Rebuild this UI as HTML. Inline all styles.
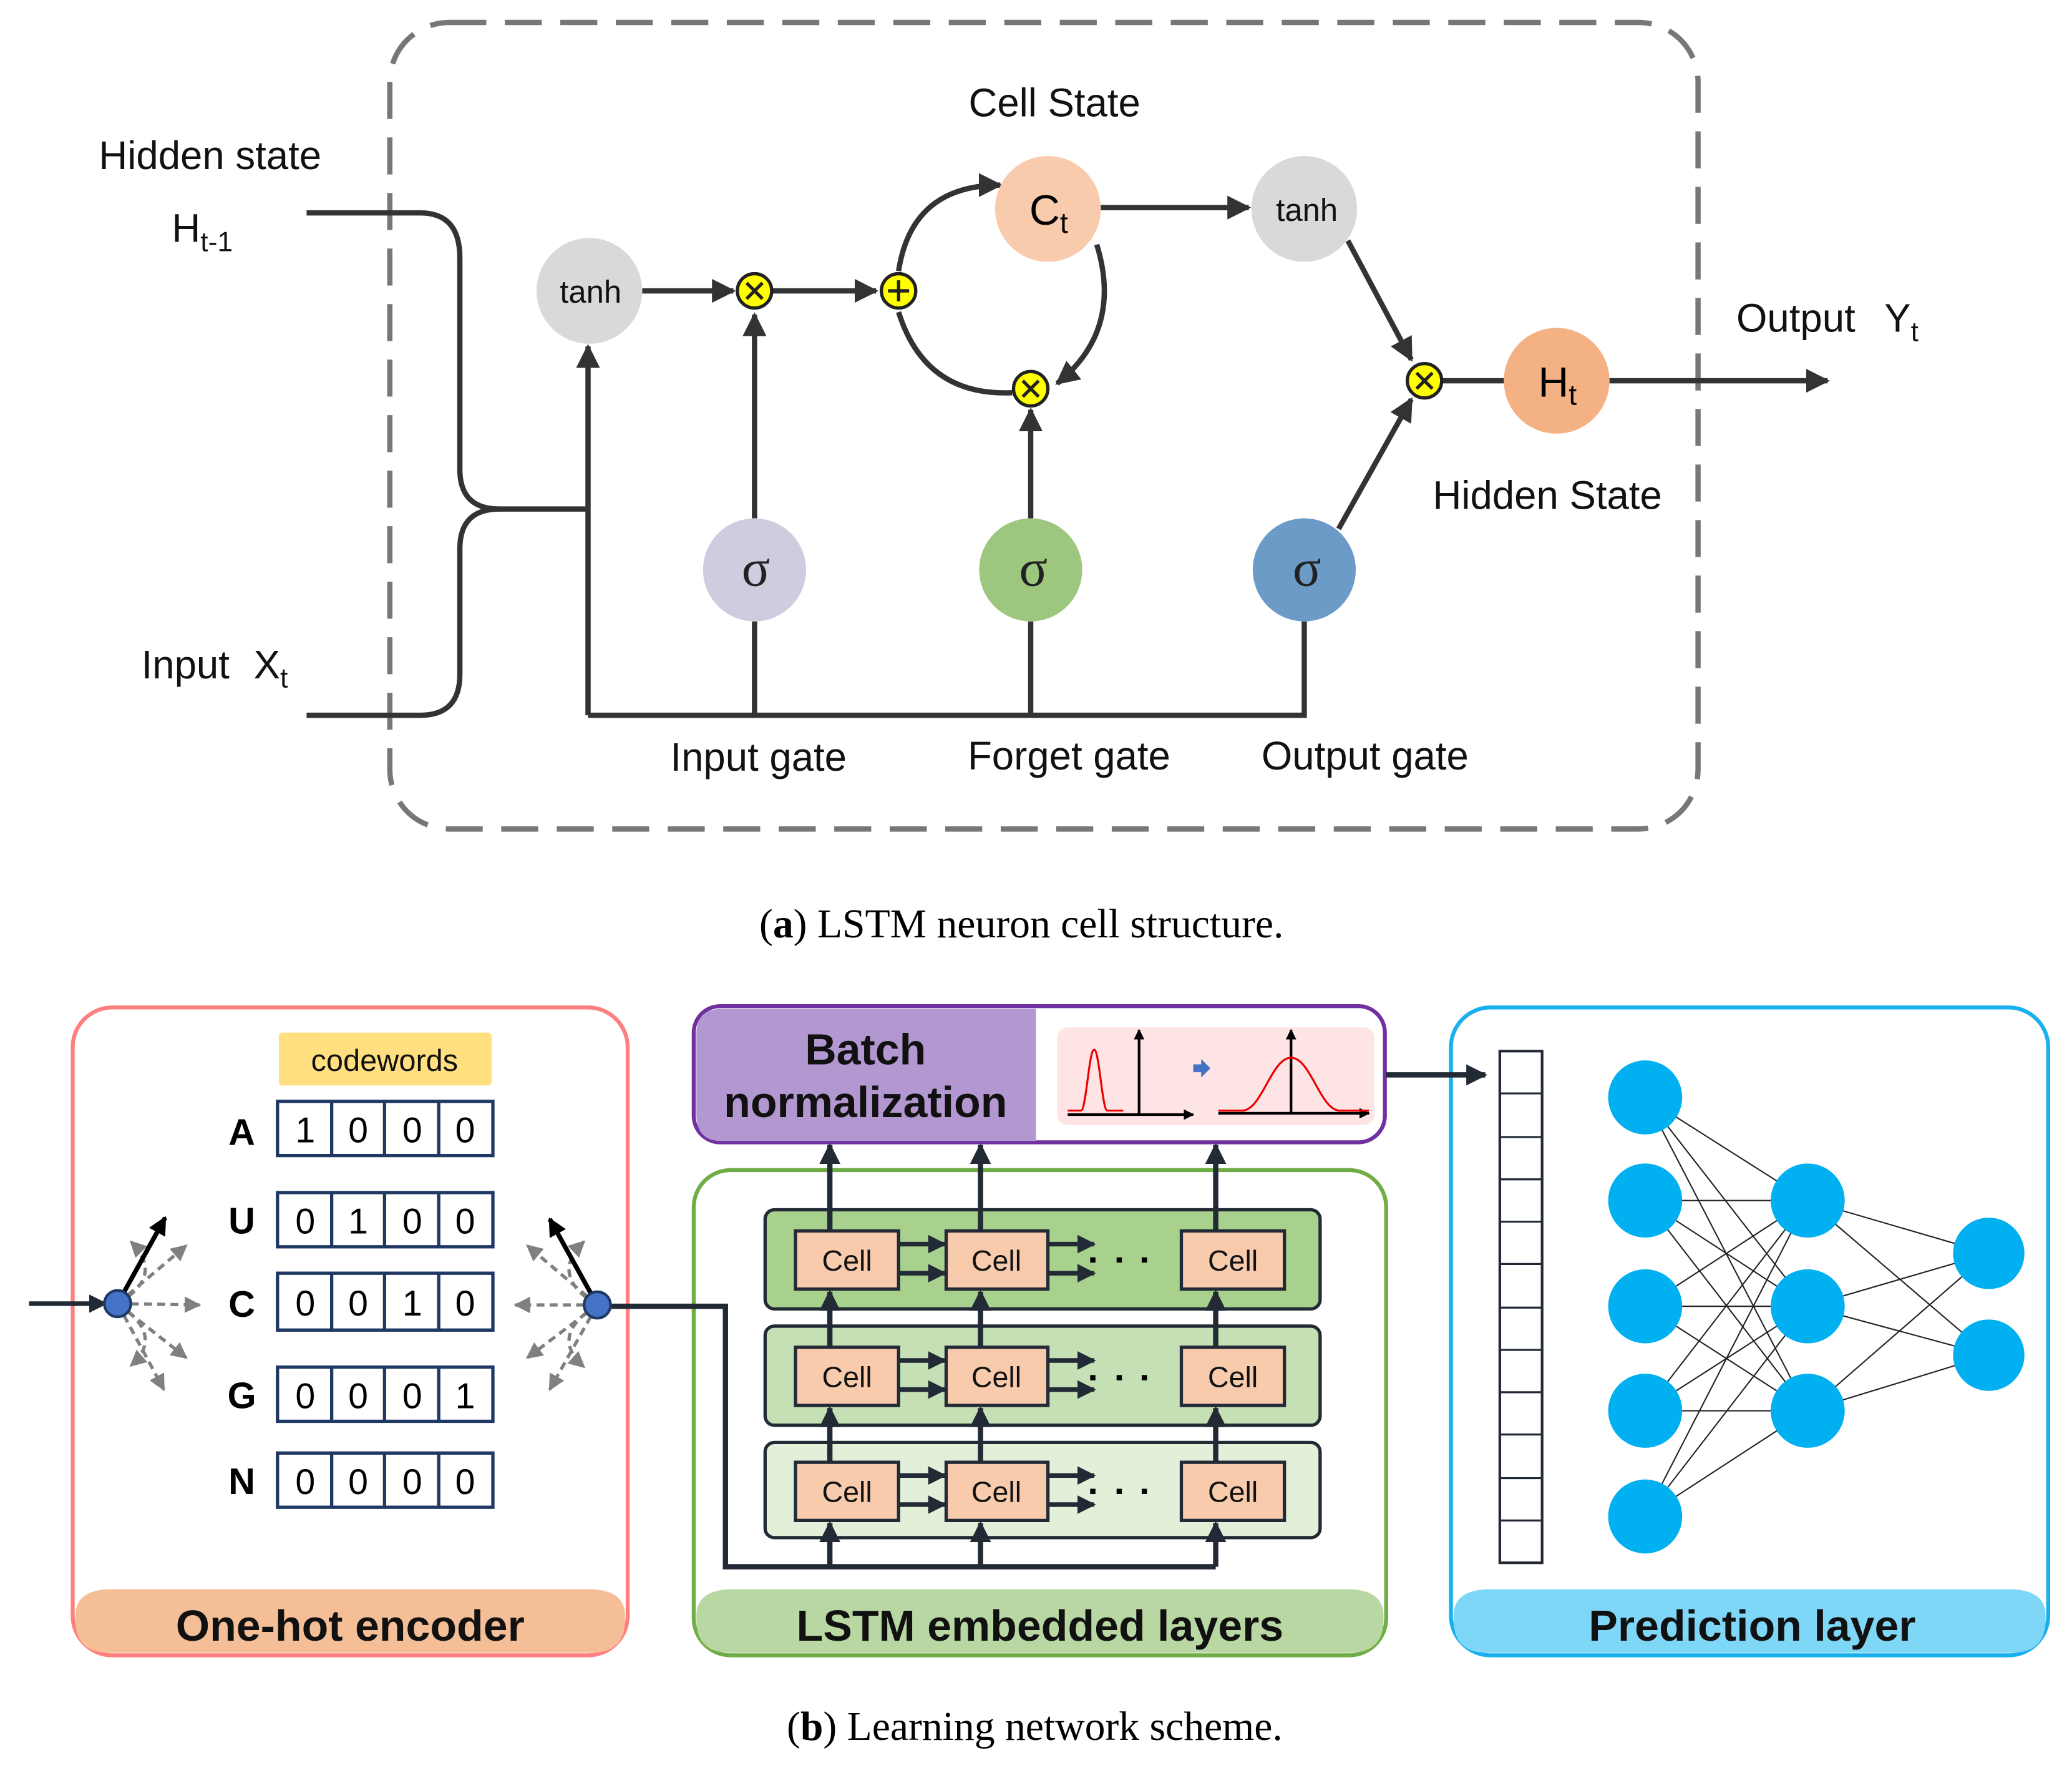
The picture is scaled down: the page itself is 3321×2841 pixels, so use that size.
<!DOCTYPE html>
<html><head><meta charset="utf-8"><style>
html,body{margin:0;padding:0;background:#fff;}
svg{display:block;}
text{font-family:"Liberation Sans","DejaVu Sans",sans-serif;}
</style></head><body>
<svg width="3321" height="2841" viewBox="0 0 1568 1341" preserveAspectRatio="none" xmlns="http://www.w3.org/2000/svg">
<defs>
<marker id="ah" viewBox="0 0 10 10" refX="9" refY="5" markerWidth="4.5" markerHeight="4.5" orient="auto-start-reverse"><path d="M0,0L10,5L0,10z" fill="#333"/></marker>
<marker id="ad" viewBox="0 0 10 10" refX="9" refY="5" markerWidth="4" markerHeight="4" orient="auto"><path d="M0,0L10,5L0,10z" fill="#222a35"/></marker>
<marker id="ag" viewBox="0 0 10 10" refX="9" refY="5" markerWidth="5" markerHeight="5" orient="auto"><path d="M0,0L10,5L0,10z" fill="#808080"/></marker>
<marker id="ak" viewBox="0 0 10 10" refX="9" refY="5" markerWidth="4" markerHeight="4" orient="auto"><path d="M0,0L10,5L0,10z" fill="#000"/></marker>
</defs>

<!-- (a) -->
<rect x="295" y="17" width="990" height="610" rx="45" fill="none" stroke="#777" stroke-width="4" stroke-dasharray="28 14"/>
<g fill="none" stroke="#333" stroke-width="4">
<path d="M232,161H318Q348,161 348,195V355Q348,385 378,385H445"/>
<path d="M232,541H318Q348,541 348,510V415Q348,385 378,385"/>
<path d="M445,541V262" marker-end="url(#ah)"/>
<path d="M445,541H987V470"/>
<path d="M571,541V470"/><path d="M780,541V470"/>
<path d="M571,392V238" marker-end="url(#ah)"/>
<path d="M486,220H555" marker-end="url(#ah)"/>
<path d="M585,220H663" marker-end="url(#ah)"/>
<path d="M680,205Q690,140 757,140" marker-end="url(#ah)"/>
<path d="M830,185Q850,250 800,290" marker-end="url(#ah)"/>
<path d="M766,297Q700,300 680,236"/>
<path d="M780,392V310" marker-end="url(#ah)"/>
<path d="M833,157H945" marker-end="url(#ah)"/>
<path d="M1020,182L1068,272" marker-end="url(#ah)"/>
<path d="M1013,400L1068,302" marker-end="url(#ah)"/>
<path d="M1091,288H1140"/>
<path d="M1218,288H1383" marker-end="url(#ah)"/>
</g>
<circle cx="446" cy="220" r="40" fill="#d9d9d9"/>
<circle cx="793" cy="158" r="40" fill="#f8cbad"/>
<circle cx="987" cy="158" r="40" fill="#d9d9d9"/>
<circle cx="1178" cy="288" r="40" fill="#f4b183"/>
<circle cx="571" cy="431" r="39" fill="#d0cce0"/>
<circle cx="780" cy="431" r="39" fill="#9dc67f"/>
<circle cx="987" cy="431" r="39" fill="#6d9bc8"/>
<g fill="#ffff00" stroke="#222" stroke-width="2.5">
<circle cx="571" cy="220" r="13"/><circle cx="680" cy="220" r="13"/><circle cx="780" cy="294" r="13"/><circle cx="1078" cy="288" r="13"/>
</g>
<g stroke="#222" stroke-width="2.5">
<path d="M565,214l12,12M577,214l-12,12"/><path d="M672,220h16M680,212v16"/><path d="M774,288l12,12M786,288l-12,12"/><path d="M1072,282l12,12M1084,282l-12,12"/>
</g>
<g font-size="24" text-anchor="middle" fill="#111">
<text x="447" y="229">tanh</text><text x="989" y="167">tanh</text>
</g>
<g font-size="40" text-anchor="middle" fill="#222">
<text x="572" y="443" style="font-family:'Liberation Serif',serif">σ</text>
<text x="782" y="443" style="font-family:'Liberation Serif',serif">σ</text>
<text x="989" y="443" style="font-family:'Liberation Serif',serif">σ</text>
</g>
<text x="779" y="170" font-size="32">C<tspan font-size="22" dy="6">t</tspan></text>
<text x="1164" y="300" font-size="32">H<tspan font-size="22" dy="6">t</tspan></text>
<g font-size="30" fill="#111">
<text x="798" y="88" text-anchor="middle">Cell State</text>
<text x="159" y="128" text-anchor="middle">Hidden state</text>
<text x="130" y="183">H<tspan font-size="21" dy="7">t-1</tspan></text>
<text x="107" y="513">Input</text>
<text x="192" y="513">X<tspan font-size="21" dy="7">t</tspan></text>
<text x="574" y="583" text-anchor="middle">Input gate</text>
<text x="809" y="582" text-anchor="middle">Forget gate</text>
<text x="1033" y="582" text-anchor="middle">Output gate</text>
<text x="1171" y="385" text-anchor="middle">Hidden State</text>
<text x="1314" y="251">Output</text>
<text x="1426" y="251">Y<tspan font-size="21" dy="7">t</tspan></text>
</g>
<text x="773" y="709" font-size="31" text-anchor="middle" style="font-family:'Liberation Serif',serif">(<tspan font-weight="bold">a</tspan>) LSTM neuron cell structure.</text>

<!-- (b) pink -->
<rect x="55" y="762" width="420" height="490" rx="30" fill="#fff" stroke="#ff7f7f" stroke-width="3"/>
<path d="M57,1222Q57,1202 85,1202H445Q473,1202 473,1222V1225Q473,1250 448,1250H82Q57,1250 57,1225Z" fill="#f4be96"/>
<text x="265" y="1241" font-size="33" font-weight="bold" text-anchor="middle" fill="#111">One-hot encoder</text>
<rect x="211" y="781" width="161" height="40" rx="3" fill="#ffdf80"/>
<text x="291" y="810" font-size="23" text-anchor="middle" fill="#111">codewords</text>
<g font-size="28" font-weight="bold" text-anchor="middle" fill="#000">
<text x="183" y="866">A</text><text x="183" y="933">U</text><text x="183" y="996">C</text><text x="183" y="1065">G</text><text x="183" y="1130">N</text>
</g>
<g fill="#fff" stroke="#1f3864" stroke-width="2.5">
<rect x="210" y="833" width="163" height="41"/><rect x="210" y="902" width="163" height="41"/><rect x="210" y="963" width="163" height="43"/><rect x="210" y="1034" width="163" height="41"/><rect x="210" y="1099" width="163" height="41"/>
<path d="M251,833v41M291,833v41M332,833v41M251,902v41M291,902v41M332,902v41M251,963v43M291,963v43M332,963v43M251,1034v41M291,1034v41M332,1034v41M251,1099v41M291,1099v41M332,1099v41"/>
</g>
<g font-size="27" text-anchor="middle" fill="#000">
<text x="231" y="864">1</text><text x="271" y="864">0</text><text x="312" y="864">0</text><text x="352" y="864">0</text>
<text x="231" y="933">0</text><text x="271" y="933">1</text><text x="312" y="933">0</text><text x="352" y="933">0</text>
<text x="231" y="995">0</text><text x="271" y="995">0</text><text x="312" y="995">1</text><text x="352" y="995">0</text>
<text x="231" y="1065">0</text><text x="271" y="1065">0</text><text x="312" y="1065">0</text><text x="352" y="1065">1</text>
<text x="231" y="1130">0</text><text x="271" y="1130">0</text><text x="312" y="1130">0</text><text x="352" y="1130">0</text>
</g>
<g stroke="#808080" stroke-width="2.5" stroke-dasharray="6 4" fill="none">
<path d="M89,986L141,942" marker-end="url(#ag)"/><path d="M89,986L151,987" marker-end="url(#ag)"/><path d="M89,986L141,1027" marker-end="url(#ag)"/><path d="M89,986L124,1051" marker-end="url(#ag)"/><path d="M89,986Q125,965 99,939" marker-end="url(#ag)"/><path d="M89,986Q125,1010 99,1033" marker-end="url(#ag)"/>
<path d="M452,987L399,942" marker-end="url(#ag)"/><path d="M452,987L390,987" marker-end="url(#ag)"/><path d="M452,987L399,1027" marker-end="url(#ag)"/><path d="M452,987L416,1051" marker-end="url(#ag)"/><path d="M452,987Q415,965 442,939" marker-end="url(#ag)"/><path d="M452,987Q415,1010 442,1034" marker-end="url(#ag)"/>
</g>
<path d="M22,986H80" stroke="#222a35" stroke-width="3.5" marker-end="url(#ad)"/>
<path d="M89,986L125,921" stroke="#000" stroke-width="3.5" marker-end="url(#ak)"/>
<path d="M452,987L416,922" stroke="#000" stroke-width="3.5" marker-end="url(#ak)"/>
<circle cx="89" cy="986" r="10" fill="#4472c4" stroke="#1f3864" stroke-width="2"/>

<!-- LSTM green -->
<rect x="525" y="885" width="524" height="367" rx="28" fill="#fff" stroke="#70ad47" stroke-width="3"/>
<path d="M527,1222Q527,1202 555,1202H1019Q1047,1202 1047,1222V1225Q1047,1250 1022,1250H552Q527,1250 527,1225Z" fill="#b8d7a2"/>
<text x="787" y="1241" font-size="33" font-weight="bold" text-anchor="middle" fill="#111">LSTM  embedded layers</text>
<rect x="579" y="915" width="420" height="75" rx="7" fill="#a9d18e" stroke="#222a35" stroke-width="2.5"/>
<rect x="579" y="1003" width="420" height="75" rx="7" fill="#c5e0b4" stroke="#222a35" stroke-width="2.5"/>
<rect x="579" y="1091" width="420" height="72" rx="7" fill="#e2f0d9" stroke="#222a35" stroke-width="2.5"/>
<g stroke="#222a35" stroke-width="4" fill="none">
<path d="M462,988H549V1185H920"/>
<path d="M628,1185V1152" marker-end="url(#ad)"/><path d="M742,1185V1152" marker-end="url(#ad)"/><path d="M920,1185V1152" marker-end="url(#ad)"/>
<path d="M628,1106V1065" marker-end="url(#ad)"/><path d="M742,1106V1065" marker-end="url(#ad)"/><path d="M920,1106V1065" marker-end="url(#ad)"/>
<path d="M628,1019V977" marker-end="url(#ad)"/><path d="M742,1019V977" marker-end="url(#ad)"/><path d="M920,1019V977" marker-end="url(#ad)"/>
<path d="M628,931V866" marker-end="url(#ad)"/><path d="M742,931V866" marker-end="url(#ad)"/><path d="M920,931V866" marker-end="url(#ad)"/>
</g>
<g stroke="#222a35" stroke-width="3.5" fill="none" marker-end="url(#ad)">
<path d="M680,941H715"/><path d="M680,963H715"/><path d="M793,941H828"/><path d="M793,963H828"/>
<path d="M680,1029H715"/><path d="M680,1051H715"/><path d="M793,1029H828"/><path d="M793,1051H828"/>
<path d="M680,1116H715"/><path d="M680,1138H715"/><path d="M793,1116H828"/><path d="M793,1138H828"/>
</g>
<g fill="#000"><rect x="825" y="951" width="4" height="4"/><rect x="845" y="951" width="4" height="4"/><rect x="864" y="951" width="4" height="4"/>
<rect x="825" y="1040" width="4" height="4"/><rect x="845" y="1040" width="4" height="4"/><rect x="864" y="1040" width="4" height="4"/>
<rect x="825" y="1126" width="4" height="4"/><rect x="845" y="1126" width="4" height="4"/><rect x="864" y="1126" width="4" height="4"/></g>
<g fill="#f8cbad" stroke="#222a35" stroke-width="2.5">
<rect x="602" y="931" width="78" height="44"/><rect x="716" y="931" width="77" height="44"/><rect x="894" y="931" width="78" height="44"/>
<rect x="602" y="1019" width="78" height="44"/><rect x="716" y="1019" width="77" height="44"/><rect x="894" y="1019" width="78" height="44"/>
<rect x="602" y="1106" width="78" height="44"/><rect x="716" y="1106" width="77" height="44"/><rect x="894" y="1106" width="78" height="44"/>
</g>
<g font-size="22" text-anchor="middle" fill="#111">
<text x="641" y="961">Cell</text><text x="754" y="961">Cell</text><text x="933" y="961">Cell</text>
<text x="641" y="1049">Cell</text><text x="754" y="1049">Cell</text><text x="933" y="1049">Cell</text>
<text x="641" y="1136">Cell</text><text x="754" y="1136">Cell</text><text x="933" y="1136">Cell</text>
</g>

<!-- Batch norm -->
<rect x="525" y="761" width="523" height="103" rx="20" fill="#fff" stroke="#7030a0" stroke-width="3"/>
<path d="M527,782Q527,763 546,763H784V863H546Q527,863 527,843Z" fill="#b397d0"/>
<text x="655" y="805" font-size="33" font-weight="bold" text-anchor="middle" fill="#111">Batch</text>
<text x="655" y="845" font-size="33" font-weight="bold" text-anchor="middle" fill="#111">normalization</text>
<rect x="800" y="777" width="240" height="74" rx="8" fill="#ffe4e6"/>
<g stroke="#000" stroke-width="2" fill="none">
<path d="M808,843H903" marker-end="url(#ak)"/><path d="M862,843V779" marker-end="url(#ak)"/>
<path d="M922,842H1036" marker-end="url(#ak)"/><path d="M977,842V779" marker-end="url(#ak)"/>
</g>
<path d="M808,840H818C822,840 824,794 828,794C832,794 834,840 838,840H850" stroke="#e00" stroke-width="1.5" fill="none"/>
<path d="M922,840H940C955,840 962,800 977,800C992,800 999,840 1014,840H1036" stroke="#e00" stroke-width="1.5" fill="none"/>
<path d="M903,805h6v-4l7,7l-7,7v-4h-6z" fill="#4472c4"/>

<!-- Prediction -->
<rect x="1098" y="762" width="452" height="490" rx="30" fill="#fff" stroke="#1ab0ee" stroke-width="3"/>
<path d="M1100,1222Q1100,1202 1128,1202H1520Q1548,1202 1548,1222V1225Q1548,1250 1523,1250H1125Q1100,1250 1100,1225Z" fill="#7fd7f7"/>
<text x="1326" y="1241" font-size="33" font-weight="bold" text-anchor="middle" fill="#111">Prediction layer</text>
<path d="M1049,813H1124" stroke="#222a35" stroke-width="4" marker-end="url(#ad)"/>
<rect x="1135" y="795" width="32" height="387" fill="#fff" stroke="#222a35" stroke-width="2"/>
<g stroke="#222a35" stroke-width="1.5">
<path d="M1135,827h32M1135,860h32M1135,892h32M1135,924h32M1135,956h32M1135,989h32M1135,1021h32M1135,1053h32M1135,1085h32M1135,1118h32M1135,1150h32"/>
</g>
<g stroke="#222" stroke-width="1">
<path d="M1245,830L1368,908M1245,830L1368,988M1245,830L1368,1067M1245,908L1368,908M1245,908L1368,988M1245,908L1368,1067M1245,988L1368,908M1245,988L1368,988M1245,988L1368,1067M1245,1067L1368,908M1245,1067L1368,988M1245,1067L1368,1067M1245,1147L1368,908M1245,1147L1368,988M1245,1147L1368,1067"/>
<path d="M1368,908L1505,948M1368,908L1505,1025M1368,988L1505,948M1368,988L1505,1025M1368,1067L1505,948M1368,1067L1505,1025"/>
</g>
<g fill="#00b0f0">
<circle cx="1245" cy="830" r="28"/><circle cx="1245" cy="908" r="28"/><circle cx="1245" cy="988" r="28"/><circle cx="1245" cy="1067" r="28"/><circle cx="1245" cy="1147" r="28"/>
<circle cx="1368" cy="908" r="28"/><circle cx="1368" cy="988" r="28"/><circle cx="1368" cy="1067" r="28"/>
<circle cx="1505" cy="948" r="27"/><circle cx="1505" cy="1025" r="27"/>
</g>
<circle cx="452" cy="987" r="10" fill="#4472c4" stroke="#1f3864" stroke-width="2"/>

<text x="783" y="1316" font-size="31" text-anchor="middle" style="font-family:'Liberation Serif',serif">(<tspan font-weight="bold">b</tspan>) Learning network scheme.</text>
</svg>
</body></html>
